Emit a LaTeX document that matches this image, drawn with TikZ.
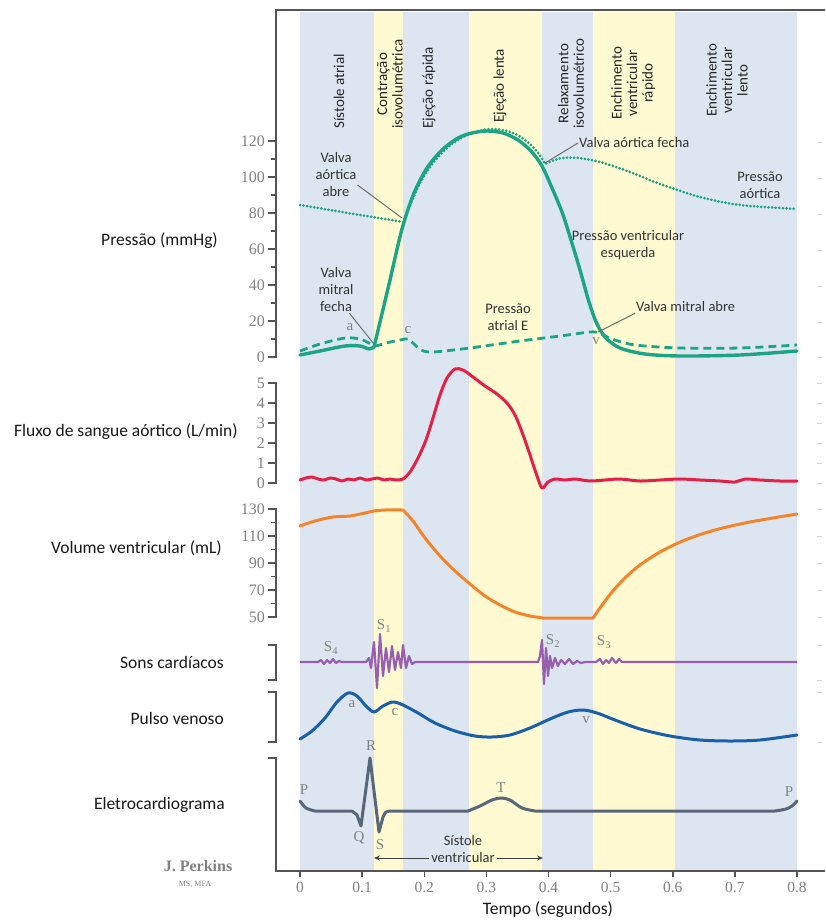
\documentclass[tikz,border=0pt]{standalone}
\usepackage{fontspec}
\setmainfont{Carlito}
\newfontfamily\numfont{Liberation Serif}
\usetikzlibrary{arrows.meta}
\definecolor{bandblue}{RGB}{221,230,240}
\definecolor{bandyellow}{RGB}{255,250,210}
\definecolor{cpress}{RGB}{28,165,132}
\definecolor{cflow}{RGB}{228,32,72}
\definecolor{cvol}{RGB}{244,132,44}
\definecolor{csound}{RGB}{150,95,175}
\definecolor{cvenous}{RGB}{25,95,170}
\definecolor{cecg}{RGB}{88,102,122}
\definecolor{caxis}{RGB}{85,85,85}
\definecolor{clabel}{RGB}{130,130,130}
\definecolor{cleader}{RGB}{110,110,110}
\begin{document}
\begin{tikzpicture}[x=1pt, y=-1pt,
  phase/.style={rotate=90, anchor=west, align=center, text=black!85, font=\fontsize{15}{15.5}\selectfont, inner sep=0pt},
  side/.style={anchor=east, text=black!90, font=\fontsize{17.5}{20}\selectfont, inner sep=0pt},
  note/.style={align=center, text=black!80, font=\fontsize{14.5}{17}\selectfont, inner sep=1pt},
  ticklab/.style={anchor=east, text=clabel, font=\numfont\fontsize{16}{18}\selectfont, inner sep=0pt},
  wavelab/.style={text=clabel, font=\numfont\fontsize{15}{17}\selectfont, inner sep=0pt},
  frameline/.style={draw=caxis, line width=1.5pt},
  leader/.style={draw=cleader, line width=1pt},
  trace/.style={line width=3pt, line join=round, line cap=round},
]
\useasboundingbox (0,0) rectangle (825,921);

% phase bands
\fill[bandblue]   (300,12) rectangle (374,871);
\fill[bandyellow] (374,12) rectangle (403,871);
\fill[bandblue]   (403,12) rectangle (469,871);
\fill[bandyellow] (469,12) rectangle (542,871);
\fill[bandblue]   (542,12) rectangle (593,871);
\fill[bandyellow] (593,12) rectangle (675,871);
\fill[bandblue]   (675,12) rectangle (797,871);

\node[phase] (ph1) at (339,129) {Sístole atrial};
\node[phase] (ph2) at (390,129) {Contração\\isovolumétrica};
\node[phase] (ph3) at (429,129) {Ejeção rápida};
\node[phase] (ph4) at (500,123) {Ejeção lenta};
\node[phase] (ph5) at (571,129) {Relaxamento\\isovolumétrico};
\node[phase] (ph6) at (633,120) {Enchimento\\ventricular\\rápido};
\node[phase] (ph7) at (727,117) {Enchimento\\ventricular\\lento};

% frame and axes
\draw[frameline] (825,10) -- (276,10) -- (276,357) -- (268,357);
\draw[frameline] (268,383) -- (276,383) -- (276,483) -- (268,483);
\draw[frameline] (268,509) -- (276,509) -- (276,617) -- (268,617);
\draw[frameline] (268,645) -- (276,645) -- (276,680) -- (268,680);
\draw[frameline] (268,692) -- (276,692) -- (276,742) -- (268,742);
\draw[frameline] (268,758) -- (276,758) -- (276,871) -- (825,871);

\foreach \p in {0,20,...,120} {
  \draw[frameline] (268,{357-1.8*\p}) -- (276,{357-1.8*\p});
  \node[ticklab] (pt\p) at (265,{357-1.8*\p}) {\p};
}
\foreach \p in {10,30,...,110}
  \draw[frameline] (271,{357-1.8*\p}) -- (276,{357-1.8*\p});
\foreach \f in {0,...,5} {
  \draw[frameline] (268,{483-20*\f}) -- (276,{483-20*\f});
  \node[ticklab] (ft\f) at (265,{483-20*\f}) {\f};
}
\foreach \v in {50,70,...,130} {
  \draw[frameline] (268,{617-1.35*(\v-50)}) -- (276,{617-1.35*(\v-50)});
  \node[ticklab] (vt\v) at (265,{617-1.35*(\v-50)}) {\v};
}
\foreach \v in {60,80,...,120}
  \draw[frameline] (271,{617-1.35*(\v-50)}) -- (276,{617-1.35*(\v-50)});
\foreach \t/\l in {0/0,1/0.1,2/0.2,3/0.3,4/0.4,5/0.5,6/0.6,7/0.7,8/0.8} {
  \draw[frameline] ({300+62.125*\t},871) -- ({300+62.125*\t},877);
  \node[wavelab, font=\numfont\fontsize{15.5}{17}\selectfont] (tt\t) at ({300+62.125*\t},887) {\l};
}
\foreach \yy in {142,178,214,250,286,322,357,383,403,423,443,463,483,509,536,563,590,617,645,680,692,742}
  \draw[gray!35, line width=1pt] (817,\yy) -- (822,\yy);

% side labels
\node[side] (lpress) at (218,241) {Pressão (mmHg)};
\node[side] (lflow)  at (238,432) {Fluxo de sangue aórtico (L/min)};
\node[side] (lvol)   at (222,548) {Volume ventricular (mL)};
\node[side] (lsound) at (224,662) {Sons cardíacos};
\node[side] (lvein)  at (224,718) {Pulso venoso};
\node[side] (lecg)   at (225,805) {Eletrocardiograma};
\node[side, anchor=center] (ltime) at (548,910) {Tempo (segundos)};

% pressure curves
\draw[trace, cpress, line width=2.8pt, line cap=butt, dash pattern=on 8pt off 5pt]
  plot[smooth, tension=0.5] coordinates {(300,351) (320,344) (345,338) (360,339) (369,343) (375,346) (386,343) (400,340) (408,339) (414,344) (421,350) (433,352) (470,348) (520,341) (560,336) (590,332) (599,333) (612,339) (635,345) (680,348) (740,348) (797,345)};
\draw[trace, cpress, line width=3.4pt]
  plot[smooth, tension=0.5] coordinates {(300,355) (320,351) (345,346) (360,346) (369,349) (374,347)}
  -- plot[smooth, tension=0.5] coordinates {(374,347) (380,322) (390,280) (398,245) (404,222) (414,193) (427,168) (442,150) (458,138) (472,133) (487,131) (503,133) (518,140) (531,151) (542,166) (552,188) (562,212) (571,240) (580,270) (589,302) (597,324) (606,338) (620,348) (645,354) (680,356) (740,355) (797,351)};
\draw[cpress, line width=3pt, line cap=round, dash pattern=on 0pt off 3.6pt]
  plot[smooth, tension=0.5] coordinates {(300,205) (330,210) (360,215) (385,219) (403,222)}
  -- plot[smooth, tension=0.5] coordinates {(403,222) (411,203) (421,181) (433,163) (448,147) (463,137) (478,131) (492,129) (507,131) (521,137) (533,147) (541,157) (545,164)}
  -- plot[smooth, tension=0.5] coordinates {(545,164) (552,161) (562,158) (578,158) (600,162) (630,172) (660,184) (700,197) (740,205) (797,209)};

\node[wavelab] (pa) at (350,327) {a};
\node[wavelab] (pc) at (408,330) {c};
\node[wavelab] (pv) at (596,341) {v};

\coordinate (pvaa) at (402,218);
\coordinate (pvmf) at (374,344);
\coordinate (pvaf) at (545,163);
\coordinate (pvma) at (598,332);
\node[note] (vaa) at (336,175) {Valva\\aórtica\\abre};
\node[note] (vmf) at (336,290) {Valva\\mitral\\fecha};
\node[note, anchor=west] (vaf) at (578,143) {Valva aórtica fecha};
\node[note, anchor=west] (vma) at (635,307) {Valva mitral abre};
\node[note] (pae) at (508,317) {Pressão\\atrial E};
\node[note] (pve) at (628,245) {Pressão ventricular\\esquerda};
\node[note] (pao) at (760,185) {Pressão\\aórtica};
\draw[leader] (vaa.-25) -- (pvaa);
\draw[leader] (vmf.-60) -- (pvmf);
\draw[leader] (vaf.west) -- (pvaf);
\draw[leader] (vma.south west) -- (pvma);

% aortic flow
\draw[trace, cflow]
  plot[smooth, tension=0.5] coordinates {(300,480) (306,478) (312,477) (318,479) (324,480) (330,478) (336,479) (342,481) (348,479) (354,480) (360,478) (366,480) (372,479) (378,478) (384,480) (390,479) (396,480) (403,479) (410,472) (418,458) (426,440) (433,418) (440,395) (447,378) (455,369) (463,370) (473,377) (485,386) (497,394) (507,403) (515,415) (522,432) (529,452) (536,473) (542,488) (548,482) (555,479) (565,480) (575,479) (590,481) (605,480) (620,479) (640,481) (660,480) (680,479) (700,480) (720,481) (735,482) (745,479) (760,480) (780,481) (797,481)};

% ventricular volume
\draw[trace, cvol]
  plot[smooth, tension=0.5] coordinates {(300,526) (315,521) (333,517) (350,516) (365,513) (374,511) (385,510) (403,510)}
  -- plot[smooth, tension=0.5] coordinates {(403,510) (413,521) (425,538) (440,556) (455,571) (470,584) (485,596) (500,605) (515,612) (530,616) (543,618)}
  -- (593,618)
  -- plot[smooth, tension=0.5] coordinates {(593,618) (600,608) (612,592) (625,578) (640,565) (660,552) (685,540) (715,530) (750,522) (797,514)};

% heart sounds
\draw[csound, line width=2.2pt, line join=round]
  (300,662) -- (318,662) -- (321,660) -- (324,664) -- (327,660) -- (330,663) -- (333,659) -- (336,663) -- (339,661) -- (342,662)
  -- (366,662) -- (369,658) -- (371,668) -- (374,642) -- (377,688) -- (380,634) -- (383,676) -- (386,648) -- (389,672) -- (392,646) -- (395,670) -- (398,652) -- (401,668) -- (403,645) -- (406,668) -- (409,656) -- (412,664) -- (415,662)
  -- (538,662) -- (540,656) -- (542,640) -- (544,684) -- (546,648) -- (548,676) -- (550,656) -- (552,668) -- (555,658) -- (558,666) -- (561,660) -- (565,664) -- (569,659) -- (573,664) -- (577,661) -- (581,663) -- (585,662)
  -- (596,662) -- (600,659) -- (603,664) -- (606,660) -- (609,663) -- (612,658) -- (616,663) -- (619,659) -- (622,662) -- (797,662);
\node[wavelab] (s4) at (331,648) {S\textsubscript{4}};
\node[wavelab] (s1) at (384,626) {S\textsubscript{1}};
\node[wavelab] (s2) at (553,641) {S\textsubscript{2}};
\node[wavelab] (s3) at (604,642) {S\textsubscript{3}};

% venous pulse
\draw[trace, cvenous]
  plot[smooth, tension=0.5] coordinates {(300,739) (312,731) (325,718) (337,702) (348,693) (357,696) (366,706) (374,712) (383,706) (393,702) (403,705) (418,713) (435,723) (455,731) (475,736) (492,737) (510,735) (530,728) (550,719) (568,712) (583,710) (597,713) (615,720) (640,729) (670,736) (700,740) (730,741) (760,740) (797,735)};
\node[wavelab] (va) at (352,704) {a};
\node[wavelab] (vc) at (395,712) {c};
\node[wavelab] (vv) at (586,720) {v};

% ECG
\draw[trace, cecg]
  plot[smooth, tension=0.5] coordinates {(300,801) (306,808) (315,811)}
  -- (352,811) -- (357,815) -- (361,826) -- (370,758) -- (379,832) -- (383,817)
  -- plot[smooth, tension=0.5] coordinates {(383,817) (386,812) (391,811)}
  -- (468,811)
  -- plot[smooth, tension=0.5] coordinates {(468,811) (480,806) (492,800) (501,798) (510,800) (522,808) (535,811)}
  -- (775,811)
  -- plot[smooth, tension=0.5] coordinates {(775,811) (786,809) (792,806) (797,801)};
\node[wavelab] (ep1) at (304,790) {P};
\node[wavelab] (er) at (371,746) {R};
\node[wavelab] (eq) at (359,838) {Q};
\node[wavelab] (es) at (380,845) {S};
\node[wavelab] (et) at (501,788) {T};
\node[wavelab] (ep2) at (789,792) {P};

% ventricular systole
\node[note, inner sep=0pt] (sst) at (463,841) {Sístole};
\node[note, inner sep=2pt] (svent) at (463,858) {ventricular};
\coordinate (svl) at (374,858);
\coordinate (svr) at (543,858);
\draw[-{Stealth[length=6pt,width=5pt]}, line width=1pt, black!75] (svent.west) -- (svl);
\draw[-{Stealth[length=6pt,width=5pt]}, line width=1pt, black!75] (svent.east) -- (svr);

% signature
\node[text=clabel, font=\numfont\bfseries\fontsize{16}{18}\selectfont] (jp) at (198,866) {J. Perkins};
\node[text=clabel, font=\numfont\fontsize{8}{9}\selectfont] (jpm) at (195,884) {MS, MFA};
\end{tikzpicture}
\end{document}
